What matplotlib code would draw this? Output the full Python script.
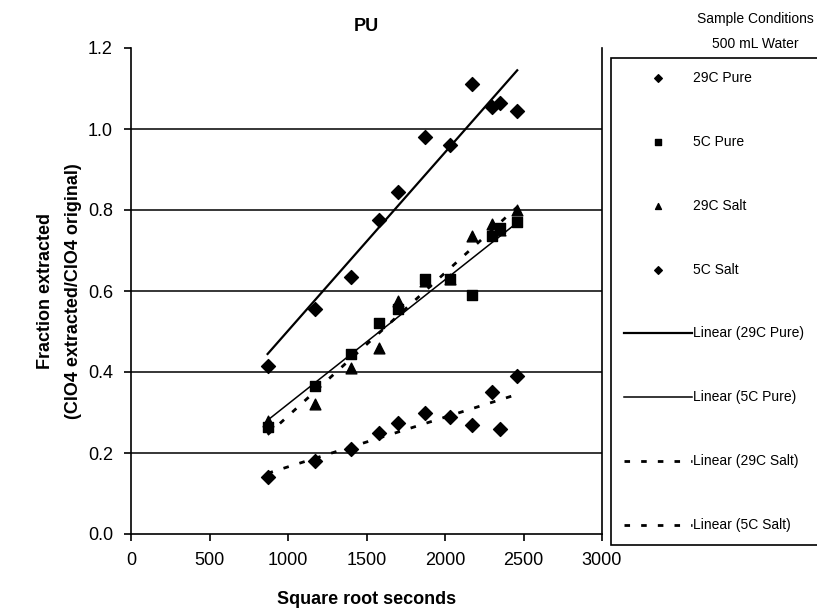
import numpy as np
import matplotlib
matplotlib.use("Agg")
import matplotlib.pyplot as plt

plt.rcParams['font.family'] = ['Liberation Sans', 'DejaVu Sans']

# square root seconds
sqrt_sec = [870, 1170, 1400, 1580, 1700, 1870, 2030, 2170, 2300, 2350, 2460]

pure_29c = [0.415, 0.555, 0.635, 0.775, 0.845, 0.98, 0.96, 1.11, 1.055, 1.065, 1.045]
pure_5c = [0.265, 0.365, 0.445, 0.52, 0.555, 0.63, 0.63, 0.59, 0.735, 0.755, 0.77]
salt_29c = [0.28, 0.32, 0.41, 0.46, 0.575, 0.625, 0.63, 0.735, 0.765, 0.75, 0.80]
salt_5c = [0.14, 0.18, 0.21, 0.25, 0.275, 0.30, 0.29, 0.27, 0.35, 0.26, 0.39]

labels = ['29C Pure', '5C Pure', '29C Salt', '5C Salt']
x_ticks = [0, 500, 1000, 1500, 2000, 2500, 3000]
y_ticks = [0.0, 0.2, 0.4, 0.6, 0.8, 1.0, 1.2]

fig = plt.figure(figsize=(8.17, 6.15), dpi=100)
ax = fig.add_axes([131/817, 1-534/615, 471/817, 486/615])

x = np.array(sqrt_sec)
ax.scatter(x, pure_29c, marker='D', s=50, color='black', label=labels[0], zorder=3)
ax.scatter(x, pure_5c, marker='s', s=50, color='black', label=labels[1], zorder=3)
ax.scatter(x, salt_29c, marker='^', s=60, color='black', label=labels[2], zorder=3)
ax.scatter(x, salt_5c, marker='D', s=50, color='black', label=labels[3], zorder=3)

# linear trendlines
styles = [('-', 1.6), ('-', 1.1), ((0, (2, 4)), 2.0), ((0, (2, 4)), 2.0)]
for y, lab, (ls, lw) in zip([pure_29c, pure_5c, salt_29c, salt_5c], labels, styles):
    k, b = np.polyfit(x, y, 1)
    xs = np.array([x.min(), x.max()])
    ax.plot(xs, k * xs + b, color='black', linestyle=ls, linewidth=lw,
            label='Linear (' + lab + ')', zorder=2)

ax.set_xlim(0, 3000)
ax.set_ylim(0, 1.2)
ax.set_xticks(x_ticks)
ax.set_yticks(y_ticks)
ax.set_yticklabels(['%.1f' % v for v in y_ticks])
for v in y_ticks[1:-1]:
    ax.axhline(v, color='black', linewidth=1.1, zorder=1)
ax.spines['top'].set_visible(False)
for s in ['left', 'bottom', 'right']:
    ax.spines[s].set_linewidth(1.2)
ax.tick_params(direction='out', length=5, width=1.2, labelsize=13, pad=8)

ax.set_title('PU', fontsize=13, fontweight='bold', pad=12)
ax.set_xlabel('Square root seconds', fontsize=13, fontweight='bold', labelpad=16)
ax.set_ylabel('Fraction extracted\n(ClO4 extracted/ClO4 original)', fontsize=13,
              fontweight='bold', labelpad=4, linespacing=1.9)

leg = ax.legend(loc='upper left', bbox_to_anchor=(611/817, 1-548/615, 0.3, 490/615),
                bbox_transform=fig.transFigure, mode='expand', borderaxespad=0,
                fontsize=10, labelspacing=3.6, borderpad=0.9, handlelength=4.9,
                handletextpad=0.1, markerscale=0.55, fancybox=False,
                edgecolor='black', framealpha=1)
leg.get_frame().set_linewidth(1.2)
fig.text(755/817, 1-31/615, 'Sample Conditions\n500 mL Water', ha='center',
         va='center', fontsize=10, linespacing=2.0)

fig.savefig('out.png', dpi=100)
